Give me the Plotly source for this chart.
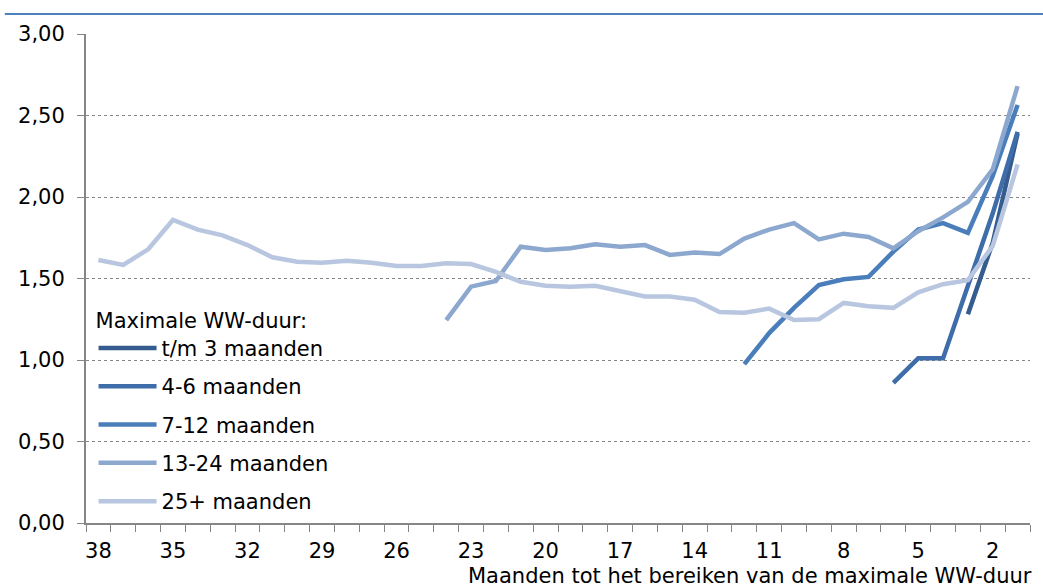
import plotly.graph_objects as go

months = list(range(38, 0, -1))
tick_months = [38, 35, 32, 29, 26, 23, 20, 17, 14, 11, 8, 5, 2]

series_names = ["t/m 3 maanden", "4-6 maanden", "7-12 maanden", "13-24 maanden", "25+ maanden"]

# values per month, from month 38 down to month 1 (None = no data)
upto_3 = [None] * 35 + [1.28, 1.72, 2.39]
m4_6 = [None] * 32 + [0.86, 1.01, 1.01, 1.46, 1.90, 2.40]
m7_12 = [None] * 26 + [0.975, 1.165, 1.32, 1.46, 1.495, 1.51, 1.665, 1.80, 1.84, 1.78, 2.13, 2.565]
m13_24 = [None] * 14 + [1.245, 1.45, 1.485, 1.695, 1.675, 1.685, 1.71, 1.695, 1.705, 1.645,
                        1.66, 1.65, 1.745, 1.80, 1.84, 1.74, 1.775, 1.755, 1.685, 1.79,
                        1.875, 1.97, 2.17, 2.68]
m25_plus = [1.613, 1.583, 1.679, 1.859, 1.80, 1.765, 1.705, 1.63, 1.603, 1.597, 1.609, 1.597,
            1.577, 1.577, 1.593, 1.589, 1.54, 1.48, 1.455, 1.45, 1.455, 1.42, 1.39, 1.39,
            1.37, 1.295, 1.29, 1.315, 1.245, 1.25, 1.35, 1.33, 1.32, 1.415, 1.465, 1.49,
            1.70, 2.20]

colors = ["#355C8F", "#3E6DAA", "#4A7EBB", "#8DA8CF", "#B8C6E0"]
font = "DejaVu Sans, Verdana, sans-serif"
fsize = 21

fig = go.Figure()
for i, (name, vals) in enumerate(zip(series_names, [upto_3, m4_6, m7_12, m13_24, m25_plus])):
    fig.add_trace(go.Scatter(
        x=months, y=vals, name=name, mode="lines",
        line=dict(color=colors[i], width=4.5),
        legendgroup=str(i),
        hoverinfo="skip",
    ))

fig.update_layout(
    width=1043, height=587,
    margin=dict(l=86, r=13, t=34, b=64),
    paper_bgcolor="white", plot_bgcolor="white",
    separators=", ",
    font=dict(family=font, size=fsize, color="#000000"),
    showlegend=True,
    legend=dict(
        title=dict(text="Maximale WW-duur:", font=dict(size=fsize)),
        x=0.008, y=0.455, xanchor="left", yanchor="top",
        bgcolor="rgba(0,0,0,0)", tracegroupgap=8,
        itemwidth=58,
        font=dict(size=fsize),
    ),
    xaxis=dict(
        range=[38.5, 0.5], tickmode="array", tickvals=tick_months,
        ticktext=[str(m) for m in tick_months],
        ticks="", showgrid=False, zeroline=False,
        showline=True, linecolor="#868686", linewidth=2,
        ticklabelstandoff=8,
        minor=dict(tickmode="linear", tick0=0.5, dtick=1, ticks="outside",
                   ticklen=7, tickcolor="#868686", tickwidth=1, showgrid=False),
    ),
    yaxis=dict(
        range=[0, 3], dtick=0.5, tickformat=".2f",
        ticks="outside", ticklen=7, tickcolor="#868686",
        showline=True, linecolor="#868686", linewidth=2,
        showgrid=True, gridcolor="#868686", griddash="dot", gridwidth=1,
        zeroline=False, ticklabelstandoff=8,
    ),
    shapes=[dict(type="line", xref="paper", yref="paper",
                 x0=-0.086, x1=1.014, y0=1.041, y1=1.041,
                 line=dict(color="#4F81BD", width=2))],
    annotations=[dict(text="Maanden tot het bereiken van de maximale WW-duur",
                      xref="paper", yref="paper", x=1.004, y=-0.108,
                      xanchor="right", yanchor="middle", showarrow=False,
                      font=dict(size=fsize))],
)

fig.write_html("out.html", config={"displayModeBar": False},
               post_script="document.body.style.margin='0';")
